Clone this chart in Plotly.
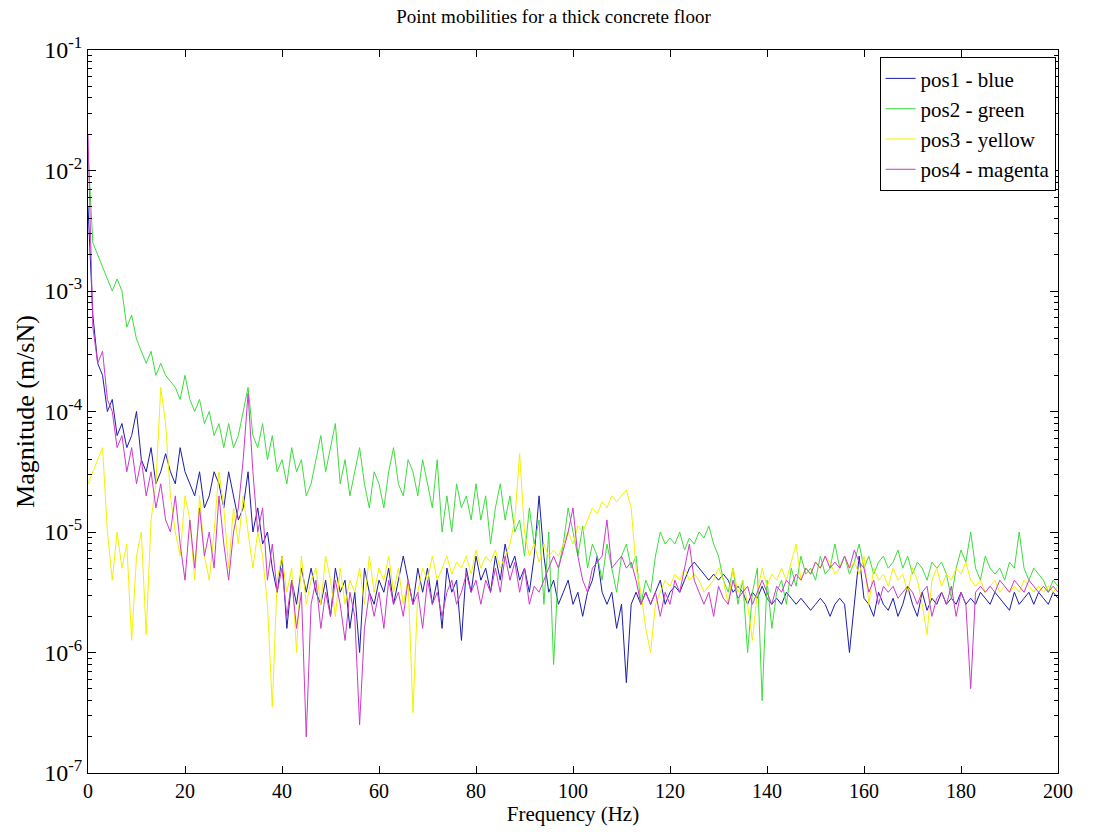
import plotly.graph_objects as go

# Frequency axis (Hz), 1 Hz steps
freq = list(range(0, 201))

# log10 of magnitude (m/sN), one value per Hz
pos1_log = [
    -2.3, -3.2, -3.6, -3.7, -4.0, -3.9, -4.2, -4.1, -4.3, -4.2,
    -4.0, -4.4, -4.5, -4.3, -4.6, -4.5, -4.35, -4.5, -4.6, -4.3,
    -4.5, -4.6, -4.7, -4.5, -4.8, -4.7, -4.5, -4.6, -4.8, -4.5,
    -4.7, -4.9, -4.8, -4.5, -5.0, -4.8, -5.1, -5.0, -5.3, -5.5,
    -5.2, -5.8, -5.4, -5.6, -5.3, -5.5, -5.3, -5.5, -5.6, -5.4,
    -5.7, -5.3, -5.5, -5.4, -5.8, -5.5, -6.0, -5.3, -5.5, -5.6,
    -5.4, -5.5, -5.3, -5.6, -5.4, -5.2, -5.4, -5.6, -5.3, -5.5,
    -5.3, -5.6, -5.4, -5.8, -5.3, -5.5, -5.4, -5.9, -5.3, -5.5,
    -5.2, -5.4, -5.3, -5.5, -5.2, -5.4, -5.1, -5.3, -5.2, -5.4,
    -5.3, -5.5, -5.2, -4.7, -5.2, -5.5, -5.4, -5.6, -5.5, -5.4,
    -5.6, -5.5, -5.7, -5.5, -5.4, -5.2, -5.5, -5.6, -5.5, -5.8,
    -5.6, -6.25, -5.6, -5.5, -5.6, -5.5, -5.6, -5.5, -5.4, -5.6,
    -5.5, -5.45, -5.5, -5.4, -5.3, -5.25, -5.3, -5.35, -5.4, -5.35,
    -5.4, -5.35, -5.4, -5.5, -5.45, -5.5, -5.6, -5.5, -5.55, -5.45,
    -5.55, -5.6, -5.55, -5.6, -5.5, -5.55, -5.6, -5.55, -5.6, -5.65,
    -5.6, -5.55, -5.6, -5.7, -5.6, -5.55, -5.6, -6.0, -5.6, -5.2,
    -5.55, -5.6, -5.7, -5.5, -5.6, -5.65, -5.55, -5.7, -5.6, -5.45,
    -5.6, -5.7, -5.5, -5.65, -5.55, -5.6, -5.5, -5.6, -5.55, -5.6,
    -5.5, -5.6, -5.55, -5.6, -5.5, -5.55, -5.6, -5.5, -5.55, -5.6,
    -5.65, -5.5, -5.6, -5.55, -5.5, -5.6, -5.5, -5.55, -5.6, -5.5,
    -5.55,
]

pos2_log = [
    -1.85, -2.6, -2.7, -2.8, -2.9, -3.0, -2.9, -3.0, -3.3, -3.2,
    -3.4, -3.5, -3.6, -3.5, -3.7, -3.6, -3.7, -3.75, -3.8, -3.9,
    -3.7, -3.9, -4.0, -3.9, -4.1, -4.0, -4.2, -4.1, -4.3, -4.1,
    -4.3, -4.2, -4.0, -3.8, -4.2, -4.3, -4.1, -4.4, -4.2, -4.5,
    -4.4, -4.6, -4.3, -4.5, -4.4, -4.7, -4.6, -4.4, -4.2, -4.5,
    -4.3, -4.1, -4.6, -4.4, -4.7, -4.5, -4.3, -4.6, -4.8, -4.5,
    -4.6, -4.8, -4.5, -4.3, -4.6, -4.7, -4.4, -4.5, -4.7, -4.4,
    -4.6, -4.8, -4.4, -5.0, -4.7, -5.0, -4.6, -4.8, -4.7, -4.9,
    -4.6, -4.9, -4.7, -5.1, -4.8, -4.6, -4.9, -4.7, -5.0, -4.9,
    -5.2, -4.8, -5.1, -4.9, -5.6, -5.0, -6.1, -5.3, -5.1, -4.8,
    -5.0, -5.2, -4.95, -5.3, -5.1, -5.2, -5.4, -5.1, -5.3, -5.5,
    -5.2, -5.1, -5.3, -5.2, -5.6, -5.4, -5.5, -5.2, -5.0, -5.1,
    -5.05, -5.1, -5.0, -5.15, -5.05, -5.1, -5.0, -5.05, -4.95, -5.1,
    -5.2, -5.4, -5.5, -5.3, -5.6, -5.4, -6.0, -5.5, -5.3, -6.4,
    -5.4, -5.8, -5.5, -5.4, -5.6, -5.3, -5.45, -5.2, -5.35, -5.3,
    -5.4, -5.2, -5.35, -5.3, -5.1, -5.3, -5.2, -5.35, -5.25, -5.1,
    -5.3, -5.2, -5.35, -5.25, -5.2, -5.3, -5.25, -5.15, -5.3, -5.2,
    -5.35, -5.25, -5.3, -5.4, -5.25, -5.3, -5.25, -5.35, -5.55, -5.3,
    -5.15, -5.25, -5.0, -5.3, -5.4, -5.2, -5.3, -5.35, -5.3, -5.4,
    -5.25, -5.3, -5.0, -5.3, -5.4, -5.3, -5.35, -5.4, -5.5, -5.4,
    -5.45,
]

pos3_log = [
    -4.6, -4.5, -4.4, -4.3, -5.0, -5.4, -5.0, -5.3, -5.1, -5.9,
    -5.2, -5.0, -5.85, -4.9, -4.6, -3.8, -4.1, -4.7, -5.0, -5.2,
    -4.7, -4.9, -5.4, -4.7, -5.2, -5.4, -5.0, -4.5, -4.8, -5.3,
    -4.8, -5.1, -4.7, -5.0, -5.3, -5.0, -5.2, -5.6, -6.45, -5.4,
    -5.2, -5.5, -5.3, -6.0, -5.2, -5.6, -5.4, -5.3, -5.6, -5.2,
    -5.4, -5.7, -5.3, -5.6, -5.4, -5.5, -5.3, -5.6, -5.2, -5.5,
    -5.3, -5.4, -5.2, -5.5, -5.3, -5.6, -5.4, -6.5, -5.5, -5.3,
    -5.4, -5.2, -5.4, -5.3, -5.2, -5.35, -5.25, -5.3, -5.2, -5.35,
    -5.15, -5.3, -5.2, -5.25, -5.15, -5.3, -5.2, -5.1, -4.9, -4.35,
    -5.0, -5.2, -5.1, -5.25, -5.1, -5.2, -5.15, -5.2, -5.1, -5.0,
    -5.1, -4.95, -5.0, -4.9, -4.8, -4.85, -4.75, -4.8, -4.7, -4.75,
    -4.7, -4.65, -4.8, -5.3, -5.5, -5.8, -6.0, -5.6, -5.5, -5.4,
    -5.45, -5.35, -5.4, -5.3, -5.4, -5.35, -5.4, -5.5, -5.45, -5.4,
    -5.3, -5.4, -5.6, -5.3, -5.5, -5.4, -5.6, -5.9, -5.5, -5.3,
    -5.45, -5.35, -5.4, -5.3, -5.4, -5.25, -5.1, -5.4, -5.3, -5.35,
    -5.25, -5.3, -5.2, -5.25, -5.35, -5.3, -5.2, -5.3, -5.25, -5.35,
    -5.2, -5.6, -5.3, -5.4, -5.35, -5.45, -5.3, -5.4, -5.35, -5.5,
    -5.3, -5.4, -5.6, -5.85, -5.4, -5.3, -5.45, -5.35, -5.4, -5.3,
    -5.35, -5.25, -5.4, -5.45, -5.4, -5.5, -5.45, -5.4, -5.5, -5.45,
    -5.5, -5.45, -5.5, -5.4, -5.45, -5.5, -5.45, -5.5, -5.45, -5.5,
    -5.45,
]

pos4_log = [
    -1.7, -3.3, -3.6, -3.5, -3.9, -4.0, -4.3, -4.2, -4.5, -4.3,
    -4.6, -4.4, -4.7, -4.5, -4.8, -4.6, -4.9, -5.0, -4.7, -5.1,
    -5.4, -4.9, -5.3, -4.8, -5.2, -5.0, -5.3, -4.7, -5.1, -5.4,
    -5.0, -4.8, -4.4, -3.85, -4.5, -5.0, -4.8, -5.4, -5.1, -5.5,
    -5.3, -5.7, -5.4, -5.8, -5.5, -6.7, -5.6, -5.4, -5.8, -5.5,
    -5.7, -5.4, -5.6, -5.9, -5.5, -5.7, -6.6, -5.8, -5.5, -5.7,
    -5.5, -5.8, -5.4, -5.6, -5.5, -5.7, -5.4, -5.6, -5.5, -5.8,
    -5.4, -5.6, -5.5, -5.7, -5.5, -5.4, -5.6, -5.5, -5.35, -5.5,
    -5.4, -5.6, -5.4, -5.5, -5.3, -5.5, -5.2, -5.4, -5.25, -5.5,
    -5.3, -5.6, -5.45, -5.5, -5.4, -5.3, -5.2, -5.3, -5.15, -5.0,
    -4.8, -5.2, -5.4, -5.5, -5.3, -5.25, -5.2, -4.9, -5.3, -5.25,
    -5.2, -5.3, -5.25, -5.4, -5.6, -5.5, -5.6, -5.5, -5.7, -5.5,
    -5.6, -5.4, -5.5, -5.3, -5.1, -5.4, -5.5, -5.6, -5.5, -5.7,
    -5.45, -5.55, -5.6, -5.4, -5.55, -5.5, -5.45, -5.6, -5.5, -5.4,
    -5.5, -5.6, -5.45, -5.5, -5.4, -5.45, -5.35, -5.4, -5.3, -5.35,
    -5.25, -5.3, -5.2, -5.3, -5.25, -5.3, -5.2, -5.3, -5.15, -5.25,
    -5.3, -5.5, -5.4, -5.6, -5.45, -5.5, -5.45, -5.55, -5.5, -5.45,
    -5.5, -5.6, -5.5, -5.45, -5.7, -5.55, -5.5, -5.6, -5.45, -5.7,
    -5.5, -5.6, -6.3, -5.5, -5.45, -5.5, -5.45, -5.5, -5.4, -5.45,
    -5.5, -5.4, -5.45, -5.5, -5.4, -5.45, -5.5, -5.45, -5.5, -5.45,
    -5.5,
]

names = ["pos1 - blue", "pos2 - green", "pos3 - yellow", "pos4 - magenta"]
colors = ["#1c1ca8", "#3ddc3d", "#f2f200", "#cc3acc"]
series = [pos1_log, pos2_log, pos3_log, pos4_log]

ytick_exp = [-7, -6, -5, -4, -3, -2, -1]
xtick_vals = [0, 20, 40, 60, 80, 100, 120, 140, 160, 180, 200]

FONT = "Liberation Serif, Times New Roman, Times, serif"

fig = go.Figure()
for name, col, vals in zip(names, colors, series):
    fig.add_trace(go.Scatter(
        x=freq, y=[10 ** v for v in vals], mode="lines", name=name,
        line=dict(color=col, width=1),
    ))

minor_vals = [k * 10 ** e for e in ytick_exp[:-1] for k in range(2, 10)]

fig.update_layout(
    width=1107, height=835,
    paper_bgcolor="white", plot_bgcolor="white",
    margin=dict(l=88, r=49, t=50, b=62),
    title=dict(text="Point mobilities for a thick concrete floor", x=0.5, xanchor="center",
               y=0.988, yanchor="top", font=dict(family=FONT, size=19, color="black")),
    font=dict(family=FONT, color="black"),
    showlegend=True,
    legend=dict(x=0.9975, xanchor="right", y=0.99, yanchor="top",
                bgcolor="white", bordercolor="black", borderwidth=1,
                font=dict(family=FONT, size=21, color="black"),
                tracegroupgap=0, itemwidth=30),
    xaxis=dict(range=[0, 200], tickmode="array", tickvals=xtick_vals,
               ticks="inside", ticklen=7, tickcolor="black", mirror="ticks",
               showline=True, linecolor="black", linewidth=1, showgrid=False, zeroline=False,
               tickfont=dict(family=FONT, size=20, color="black"),
               title=dict(text="Frequency (Hz)", font=dict(family=FONT, size=21, color="black"), standoff=2)),
    yaxis=dict(type="log", range=[-7, -1], tickmode="array",
               tickvals=[10 ** e for e in ytick_exp],
               ticktext=["10<sup>%d</sup>" % e for e in ytick_exp],
               ticks="inside", ticklen=8, tickcolor="black", mirror="ticks",
               showline=True, linecolor="black", linewidth=1, showgrid=False, zeroline=False,
               tickfont=dict(family=FONT, size=24, color="black"),
               minor=dict(tickmode="array", tickvals=minor_vals, ticks="inside", ticklen=4,
                          tickcolor="black", showgrid=False),
               title=dict(text="Magnitude (m/sN)", font=dict(family=FONT, size=26, color="black"), standoff=2)),
)

fig.write_html("out.html")
